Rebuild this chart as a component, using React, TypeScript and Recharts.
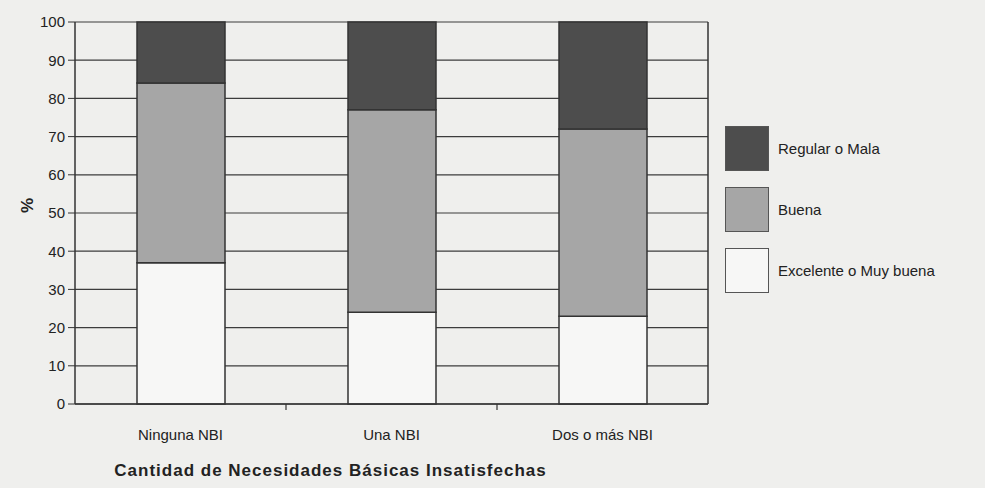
import React from 'react';
import { Bar, BarChart, CartesianGrid, XAxis, YAxis } from 'recharts';

const categories = ['Ninguna NBI', 'Una NBI', 'Dos o más NBI'];
const excelente = [37, 24, 23];
const buena = [47, 53, 49];
const regular = [16, 23, 28];
const yTicks = [0, 10, 20, 30, 40, 50, 60, 70, 80, 90, 100];

const series = [
  { key: 'excelente', name: 'Excelente o Muy buena', fill: '#f7f7f6' },
  { key: 'buena', name: 'Buena', fill: '#a6a6a6' },
  { key: 'regular', name: 'Regular o Mala', fill: '#4d4d4d' },
];

const data = categories.map((c, i) => ({
  name: c,
  excelente: excelente[i],
  buena: buena[i],
  regular: regular[i],
}));

const font = '"Liberation Sans", Arial, sans-serif';
const CHART_W = 985;
const MARGIN = { top: 22, right: 276, bottom: 0, left: 0 };
const Y_W = 75;
const BAND = (CHART_W - MARGIN.left - MARGIN.right - Y_W - 1) / categories.length;

// category label plus the excel-style tick mark between categories
const CatTick = (props: any) => {
  const { x, y, payload, index } = props;
  return (
    <g>
      {index > 0 && (
        <line x1={x - BAND / 2} x2={x - BAND / 2} y1={y} y2={y + 6} stroke="#333" strokeWidth={1.2} />
      )}
      <text x={x} y={y + 36} textAnchor="middle" fontSize={15} fill="#222" fontFamily={font}>
        {payload.value}
      </text>
    </g>
  );
};

// legend drawn beside the chart, top item = top of the stack
const LegendBox = () => (
  <div style={{ position: 'absolute', left: 725, top: 118, fontFamily: font, fontSize: 15, color: '#222' }}>
    {[...series].reverse().map(s => (
      <div key={s.key} style={{ display: 'flex', alignItems: 'center', height: 61 }}>
        <div style={{ width: 44, height: 45, background: s.fill, border: '1px solid #555', boxSizing: 'border-box' }} />
        <span style={{ marginLeft: 9 }}>{s.name}</span>
      </div>
    ))}
  </div>
);

const App = () => {
  return (
    <div style={{ position: 'absolute', left: 0, top: 0, width: CHART_W, height: 488, background: '#efefed' }}>
      <BarChart width={CHART_W} height={488} data={data} barSize={88} margin={MARGIN}>
        <CartesianGrid vertical={false} stroke="#3c3c3c" strokeWidth={1.2} />
        <XAxis dataKey="name" height={84} tickLine={false} tickSize={0} tickMargin={0}
               axisLine={{ stroke: '#333', strokeWidth: 1.5 }} tick={<CatTick />} interval={0}
               label={{ value: 'Cantidad de Necesidades Básicas Insatisfechas', position: 'insideBottom', offset: 12,
                        dx: -61, style: { fontSize: 17, fontWeight: 'bold', letterSpacing: 1, fill: '#222', fontFamily: font } }} />
        <YAxis width={Y_W} domain={[0, 100]} ticks={yTicks} interval={0} tickSize={7} tickMargin={3}
               axisLine={{ stroke: '#333', strokeWidth: 1.5 }} tickLine={{ stroke: '#333' }}
               tick={{ fontSize: 15, fill: '#222', fontFamily: font }}
               label={{ value: '%', angle: -90, position: 'insideLeft', dx: 22, style: { fontSize: 17, fontWeight: 'bold', fill: '#222', fontFamily: font } }} />
        <YAxis yAxisId="r" orientation="right" width={1} domain={[0, 100]} tick={false} tickLine={false}
               axisLine={{ stroke: '#333', strokeWidth: 1.5 }} />
        {series.map(s => (
          <Bar key={s.key} dataKey={s.key} name={s.name} stackId="a" fill={s.fill}
               stroke="#333" strokeWidth={1.5} isAnimationActive={false} />
        ))}
      </BarChart>
      <LegendBox />
    </div>
  );
};

export default App;
